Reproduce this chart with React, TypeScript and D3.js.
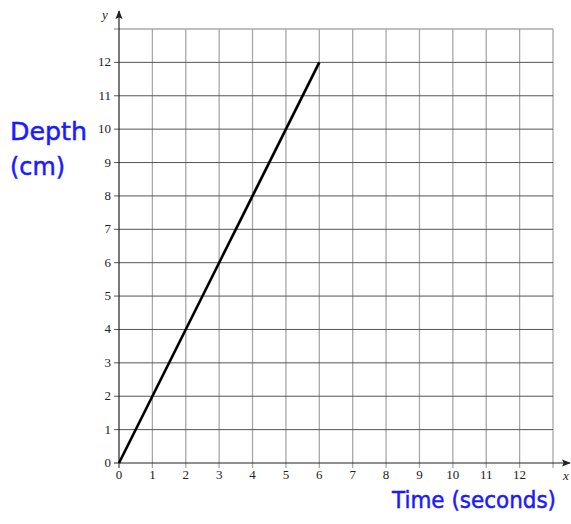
import { useEffect, useRef } from "react";
import * as d3 from "d3";

const xTicks = [0, 1, 2, 3, 4, 5, 6, 7, 8, 9, 10, 11, 12];
const yTicks = [0, 1, 2, 3, 4, 5, 6, 7, 8, 9, 10, 11, 12];
const gridMax = 13;
const lineTime = [0, 6];
const lineDepth = [0, 12];
const yTitle = ["Depth", "(cm)"];
const yTitleWidth = [77, 55];
const xTitle = "Time (seconds)";

const W = 571;
const H = 524;

const App = () => {
  const ref = useRef<SVGSVGElement>(null);

  useEffect(() => {
    const svg = d3.select(ref.current);
    svg.selectAll("*").remove();

    const x = d3.scaleLinear().domain([0, gridMax]).range([119, 553]);
    const y = d3.scaleLinear().domain([0, gridMax]).range([463, 29]);
    const all = d3.range(0, gridMax + 1);

    const defs = svg.append("defs");
    defs
      .append("marker")
      .attr("id", "arrow")
      .attr("viewBox", "0 0 10 10")
      .attr("refX", 9)
      .attr("refY", 5)
      .attr("markerWidth", 9)
      .attr("markerHeight", 9)
      .attr("markerUnits", "userSpaceOnUse")
      .attr("orient", "auto")
      .append("path")
      .attr("d", "M0,1 L10,5 L0,9 L2,5 Z")
      .attr("fill", "#222");

    const grid = svg.append("g");
    // vertical grid lines (lighter)
    grid
      .selectAll(".vx")
      .data(all.slice(1))
      .join("line")
      .attr("x1", (d) => x(d))
      .attr("x2", (d) => x(d))
      .attr("y1", y(gridMax))
      .attr("y2", y(0) + 5)
      .attr("stroke", "#a8a8a8")
      .attr("stroke-width", 1.3);
    // horizontal grid lines (darker)
    grid
      .selectAll(".hy")
      .data(all.slice(1))
      .join("line")
      .attr("x1", x(0) - 5)
      .attr("x2", x(gridMax))
      .attr("y1", (d) => y(d))
      .attr("y2", (d) => y(d))
      .attr("stroke", (d) => (d === gridMax ? "#a8a8a8" : "#555"))
      .attr("stroke-width", (d) => (d === gridMax ? 1.3 : 1));

    // axes with arrows
    svg
      .append("line")
      .attr("x1", x(0))
      .attr("x2", 570)
      .attr("y1", y(0))
      .attr("y2", y(0))
      .attr("stroke", "#222")
      .attr("stroke-width", 1.2)
      .attr("marker-end", "url(#arrow)");
    svg
      .append("line")
      .attr("x1", x(0))
      .attr("x2", x(0))
      .attr("y1", y(0))
      .attr("y2", 11)
      .attr("stroke", "#222")
      .attr("stroke-width", 1.2)
      .attr("marker-end", "url(#arrow)");
    svg
      .append("line")
      .attr("x1", x(0) - 5)
      .attr("x2", x(0))
      .attr("y1", y(0))
      .attr("y2", y(0))
      .attr("stroke", "#222");
    svg
      .append("line")
      .attr("x1", x(0))
      .attr("x2", x(0))
      .attr("y1", y(0))
      .attr("y2", y(0) + 5)
      .attr("stroke", "#222");

    const serif = "'Liberation Serif', 'Times New Roman', serif";
    svg
      .append("g")
      .selectAll("text")
      .data(xTicks)
      .join("text")
      .attr("x", (d) => x(d))
      .attr("y", y(0) + 16)
      .attr("text-anchor", "middle")
      .attr("font-family", serif)
      .attr("font-size", 13)
      .attr("fill", "#222")
      .text((d) => d);
    svg
      .append("g")
      .selectAll("text")
      .data(yTicks)
      .join("text")
      .attr("x", x(0) - 8)
      .attr("y", (d) => y(d) + 4)
      .attr("text-anchor", "end")
      .attr("font-family", serif)
      .attr("font-size", 13)
      .attr("fill", "#222")
      .text((d) => d);

    svg
      .append("text")
      .attr("x", 105)
      .attr("y", 19)
      .attr("text-anchor", "middle")
      .attr("font-family", serif)
      .attr("font-style", "italic")
      .attr("font-size", 13)
      .attr("fill", "#222")
      .text("y");
    svg
      .append("text")
      .attr("x", 566)
      .attr("y", y(0) + 17)
      .attr("text-anchor", "middle")
      .attr("font-family", serif)
      .attr("font-style", "italic")
      .attr("font-size", 13)
      .attr("fill", "#222")
      .text("x");

    // data line
    const pts = lineTime.map((t, i) => [t, lineDepth[i]] as [number, number]);
    svg
      .append("path")
      .datum(pts)
      .attr("fill", "none")
      .attr("stroke", "#000")
      .attr("stroke-width", 2.6)
      .attr(
        "d",
        d3
          .line<[number, number]>()
          .x((d) => x(d[0]))
          .y((d) => y(d[1]))
      );

    const hand = "'Comic Sans MS', 'DejaVu Sans', sans-serif";
    svg
      .append("g")
      .selectAll("text")
      .data(yTitle)
      .join("text")
      .attr("x", 10)
      .attr("y", (d, i) => 140 + i * 35)
      .attr("font-family", hand)
      .attr("font-size", 25)
      .attr("textLength", (d, i) => yTitleWidth[i])
      .attr("lengthAdjust", "spacingAndGlyphs")
      .attr("fill", "#1a1aff")
      .attr("stroke", "#1a1aff")
      .attr("stroke-width", 0.5)
      .text((d) => d);
    svg
      .append("text")
      .attr("x", 392)
      .attr("y", 508)
      .attr("font-family", hand)
      .attr("font-size", 23)
      .attr("textLength", 164)
      .attr("lengthAdjust", "spacingAndGlyphs")
      .attr("fill", "#1a1aff")
      .attr("stroke", "#1a1aff")
      .attr("stroke-width", 0.5)
      .text(xTitle);
  }, []);

  return (
    <svg
      ref={ref}
      width={W}
      height={H}
      style={{ position: "absolute", left: 0, top: 0, background: "#fff" }}
    />
  );
};

export default App;
